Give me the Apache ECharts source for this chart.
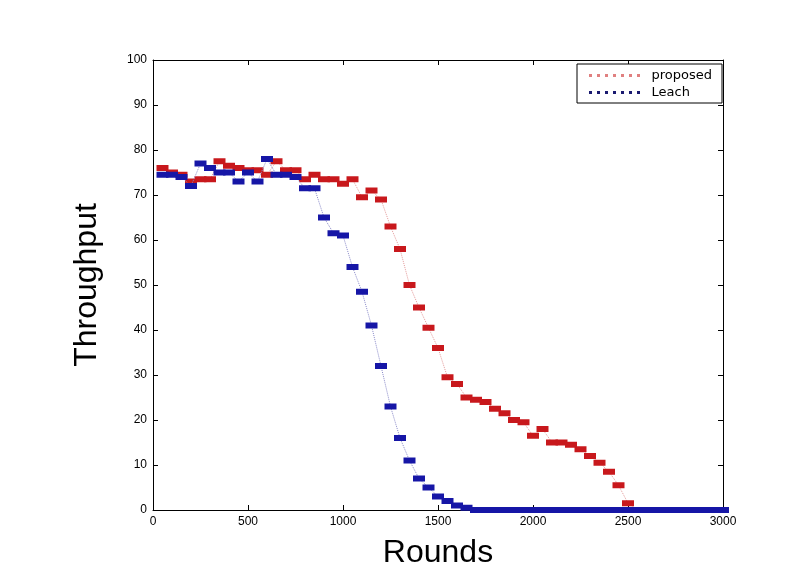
<!DOCTYPE html>
<html>
<head>
<meta charset="utf-8">
<title>Throughput vs Rounds</title>
<script src="https://cdn.jsdelivr.net/npm/echarts@6/dist/echarts.min.js"></script>
<style>
  html, body { margin: 0; padding: 0; background: #fff; }
  #chart { width: 800px; height: 575px; }
</style>
</head>
<body>
<div id="chart"></div>
<script>
// rounds sampled every 50
var rounds = [50, 100, 150, 200, 250, 300, 350, 400, 450, 500,
  550, 600, 650, 700, 750, 800, 850, 900, 950, 1000,
  1050, 1100, 1150, 1200, 1250, 1300, 1350, 1400, 1450, 1500,
  1550, 1600, 1650, 1700, 1750, 1800, 1850, 1900, 1950, 2000,
  2050, 2100, 2150, 2200, 2250, 2300, 2350, 2400, 2450, 2500,
  2550, 2600, 2650, 2700, 2750, 2800, 2850, 2900, 2950, 3000];

var proposed = [76, 75, 74.5, 73, 73.5, 73.5, 77.5, 76.5, 76, 75.5,
  75.5, 74.5, 77.5, 75.5, 75.5, 73.5, 74.5, 73.5, 73.5, 72.5,
  73.5, 69.5, 71, 69, 63, 58, 50, 45, 40.5, 36,
  29.5, 28, 25, 24.5, 24, 22.5, 21.5, 20, 19.5, 16.5,
  18, 15, 15, 14.5, 13.5, 12, 10.5, 8.5, 5.5, 1.5,
  0, 0, 0, 0, 0, 0, 0, 0, 0, 0];

var leach = [74.5, 74.5, 74, 72, 77, 76, 75, 75, 73, 75,
  73, 78, 74.5, 74.5, 74, 71.5, 71.5, 65, 61.5, 61,
  54, 48.5, 41, 32, 23, 16, 11, 7, 5, 3,
  2, 1, 0.5, 0, 0, 0, 0, 0, 0, 0,
  0, 0, 0, 0, 0, 0, 0, 0, 0, 0,
  0, 0, 0, 0, 0, 0, 0, 0, 0, 0];

var seriesNames = ['proposed', 'Leach'];

function pairs(ys) {
  var out = [];
  for (var i = 0; i < rounds.length; i++) out.push([rounds[i], ys[i]]);
  return out;
}

var chart = echarts.init(document.getElementById('chart'));
var font = 'Liberation Sans, Arial, sans-serif';
var dotIcon = 'path://M0,0h3v3h-3z M8,0h3v3h-3z M16,0h3v3h-3z M24,0h3v3h-3z M32,0h3v3h-3z M40,0h3v3h-3z M48,0h3v3h-3z';

var axisLine = { show: true, onZero: false, lineStyle: { color: '#000', width: 1 } };
var tick = { show: true, inside: true, length: 5, lineStyle: { color: '#000' } };
var plain = function (v) { return String(v); };

chart.setOption({
  backgroundColor: '#fff',
  animation: false,
  grid: { left: 153, right: 77, top: 60, bottom: 65 },
  legend: {
    orient: 'vertical',
    right: 78,
    top: 64,
    align: 'left',
    itemWidth: 52,
    itemHeight: 3,
    itemGap: 4,
    padding: [5, 10, 4, 12],
    backgroundColor: '#fff',
    borderColor: '#000',
    borderWidth: 1,
    borderRadius: 0,
    data: [
      { name: seriesNames[0], icon: dotIcon, itemStyle: { color: '#e08080' } },
      { name: seriesNames[1], icon: dotIcon, itemStyle: { color: '#1a1a70' } }
    ],
    textStyle: { color: '#000', fontSize: 13, fontFamily: 'DejaVu Sans, sans-serif', padding: [0, 0, 0, 6] }
  },
  xAxis: [{
    type: 'value',
    min: 0, max: 3000, interval: 500,
    name: 'Rounds',
    nameLocation: 'middle',
    nameGap: 27,
    nameTextStyle: { fontSize: 32, fontFamily: font, color: '#000' },
    axisLine: axisLine,
    axisTick: tick,
    axisLabel: { color: '#000', fontSize: 12, fontFamily: font, margin: 6, formatter: plain },
    splitLine: { show: false }
  }, {
    type: 'value',
    position: 'top',
    min: 0, max: 3000, interval: 500,
    axisLine: axisLine,
    axisTick: tick,
    axisLabel: { show: false },
    splitLine: { show: false }
  }],
  yAxis: [{
    type: 'value',
    min: 0, max: 100, interval: 10,
    name: 'Throughput',
    nameLocation: 'middle',
    nameGap: 50,
    nameTextStyle: { fontSize: 32, fontFamily: font, color: '#000' },
    axisLine: axisLine,
    axisTick: tick,
    axisLabel: { color: '#000', fontSize: 12, fontFamily: font, margin: 6, formatter: plain },
    splitLine: { show: false }
  }, {
    type: 'value',
    position: 'right',
    min: 0, max: 100, interval: 10,
    axisLine: axisLine,
    axisTick: tick,
    axisLabel: { show: false },
    splitLine: { show: false }
  }],
  series: [{
    name: seriesNames[0],
    type: 'line',
    data: pairs(proposed),
    symbol: 'rect',
    symbolSize: [12, 6],
    showAllSymbol: true,
    itemStyle: { color: '#c8181c' },
    lineStyle: { type: 'dotted', width: 1, color: '#e39a9a' },
    z: 2
  }, {
    name: seriesNames[1],
    type: 'line',
    data: pairs(leach),
    symbol: 'rect',
    symbolSize: [12, 6],
    showAllSymbol: true,
    itemStyle: { color: '#1616a6' },
    lineStyle: { type: 'dotted', width: 1, color: '#8a8ac8' },
    z: 3
  }]
});
</script>
</body>
</html>
